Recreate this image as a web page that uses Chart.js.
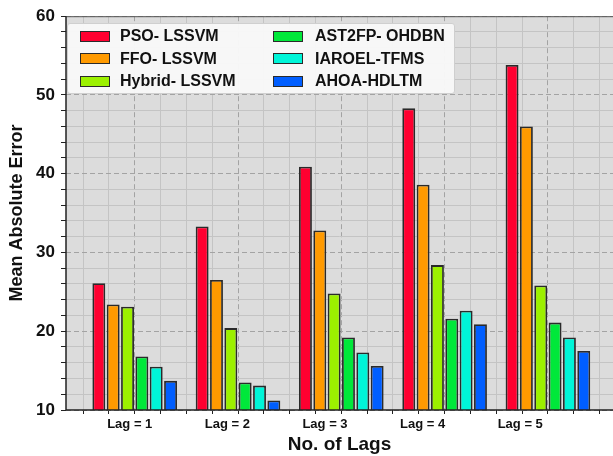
<!DOCTYPE html>
<html><head><meta charset="utf-8">
<script src="https://cdn.jsdelivr.net/npm/chart.js@4.4.0/dist/chart.umd.min.js"></script>
<style>
html,body{margin:0;padding:0;background:#fff;}
#wrap{position:relative;width:613px;height:456px;overflow:hidden;}
#legend{position:absolute;left:67px;top:23px;width:388px;height:71px;background:rgba(248,248,248,0.96);border:1px solid #cfcfcf;border-radius:3px;box-sizing:border-box;font:bold 16px "Liberation Sans",Arial,sans-serif;color:#111;}
.item{position:absolute;display:flex;align-items:center;height:22px;white-space:nowrap;}
.sw{width:30px;height:11px;border:1.5px solid #2a2a2a;box-sizing:border-box;margin-right:10px;}
</style></head>
<body><div id="wrap"><canvas id="c" width="613" height="456"></canvas><div id="legend"></div></div>
<script>
const categories = ['Lag = 1','Lag = 2','Lag = 3','Lag = 4','Lag = 5'];
const seriesNames = ['PSO- LSSVM','FFO- LSSVM','Hybrid- LSSVM','AST2FP- OHDBN','IAROEL-TFMS','AHOA-HDLTM'];
const psoLssvm    = [26.1, 33.3, 40.9, 48.3, 53.8];
const ffoLssvm    = [23.4, 26.5, 32.8, 38.6, 46.0];
const hybridLssvm = [23.1, 20.4, 24.8, 28.4, 25.8];
const ast2fpOhdbn = [16.8, 13.5, 19.2, 21.6, 21.1];
const iaroelTfms  = [15.5, 13.1, 17.3, 22.6, 19.2];
const ahoaHdltm   = [13.7, 11.2, 15.6, 20.9, 17.5];
const yMin = 10, yMax = 60;

const seriesValues = [psoLssvm, ffoLssvm, hybridLssvm, ast2fpOhdbn, iaroelTfms, ahoaHdltm];
const colors = ['#ff0030','#ff9a00','#9cf000','#00e83a','#00f5d8','#005eff'];

const X_MIN = -0.665, X_MAX = 4.63;
const FONT = '"Liberation Sans", Arial, sans-serif';
const isMult = (v, m) => Math.abs(v - Math.round(v / m) * m) < 1e-6;

const framePlugin = {
  id: 'frame',
  beforeDraw(chart) {
    const {ctx, chartArea: a} = chart;
    ctx.save();
    ctx.fillStyle = '#dcdcdc';
    ctx.fillRect(a.left, a.top, a.right - a.left, a.bottom - a.top);
    ctx.restore();
  },
  afterDatasetsDraw(chart) {
    const {ctx, chartArea: a} = chart;
    ctx.save();
    ctx.strokeStyle = '#555';
    ctx.lineWidth = 1;
    ctx.beginPath(); ctx.moveTo(a.left, a.top + 0.5); ctx.lineTo(a.right, a.top + 0.5); ctx.stroke();
    ctx.strokeStyle = '#222';
    ctx.lineWidth = 1.5;
    ctx.beginPath();
    ctx.moveTo(a.left, a.top); ctx.lineTo(a.left, a.bottom); ctx.lineTo(a.right, a.bottom);
    ctx.stroke();
    ctx.restore();
  }
};

const datasets = seriesNames.map((name, k) => ({
  label: name,
  data: categories.map((_, i) => ({x: i, y: seriesValues[k][i]})),
  backgroundColor: colors[k],
  borderColor: '#2a2a2a',
  borderWidth: 1.8,
  borderSkipped: false,
  categoryPercentage: 0.833,
  barPercentage: 0.9,
  xAxisID: 'x',
  yAxisID: 'y'
}));

new Chart(document.getElementById('c'), {
  type: 'bar',
  data: { datasets },
  plugins: [framePlugin],
  options: {
    responsive: false,
    animation: false,
    layout: { padding: { top: 16, right: 0, bottom: 0, left: 0 } },
    plugins: { legend: { display: false }, tooltip: { enabled: false } },
    scales: {
      x: {
        type: 'linear', min: X_MIN, max: X_MAX, position: 'bottom', weight: 0, offset: false,
        afterBuildTicks: ax => { ax.ticks = categories.map((_, i) => ({value: i})); },
        afterFit: ax => { ax.height = 0; },
        ticks: { display: false },
        grid: { color: '#a3a3a3', lineWidth: 1, drawTicks: false, offset: false },
        border: { display: false, dash: [5, 3] }
      },
      xMinor: {
        type: 'linear', min: X_MIN, max: X_MAX, position: 'bottom', weight: 1, offset: false,
        afterBuildTicks: ax => { const t = []; for (let k = -2; k <= 18; k++) t.push({value: k * 0.25}); ax.ticks = t; },
        afterFit: ax => { ax.height = 4; },
        ticks: { display: false, autoSkip: false },
        grid: {
          color: ctx => (ctx.tick && isMult(ctx.tick.value, 1)) ? 'rgba(0,0,0,0)' : '#c4c4c4',
          lineWidth: 1, drawTicks: true, tickLength: 4, tickColor: '#222', tickWidth: 1, offset: false
        },
        border: { display: false }
      },
      xLab: {
        type: 'linear', min: X_MIN, max: X_MAX, position: 'bottom', weight: 2, offset: false,
        afterBuildTicks: ax => { ax.ticks = categories.map((_, i) => ({value: i * 0.945 - 0.048})); },
        afterFit: ax => { ax.height = 42; },
        ticks: {
          autoSkip: false, maxRotation: 0, padding: 3, color: '#111',
          font: { family: FONT, weight: 'bold', size: 13 },
          callback: (v, i) => categories[i]
        },
        grid: { display: false, drawTicks: false, drawOnChartArea: false, offset: false },
        border: { display: false },
        title: { display: true, text: 'No. of Lags', color: '#111', padding: 0,
                 font: { family: FONT, weight: 'bold', size: 19 } }
      },
      y: {
        type: 'linear', min: yMin, max: yMax, position: 'left', weight: 0,
        afterFit: ax => { ax.width = 66; },
        ticks: {
          stepSize: 2, autoSkip: false, padding: 6, color: '#111',
          font: { family: FONT, weight: 'bold', size: 17 },
          callback: v => isMult(v, 10) ? v : ''
        },
        grid: {
          color: ctx => (ctx.tick && isMult(ctx.tick.value, 10)) ? 'rgba(0,0,0,0)' : '#c4c4c4',
          lineWidth: 1, drawTicks: true, tickLength: 5, tickColor: '#222', tickWidth: 1
        },
        border: { display: false },
        title: { display: true, text: 'Mean Absolute Error', color: '#111',
                 padding: { top: 6, bottom: 0 },
                 font: { family: FONT, weight: 'bold', size: 18 } }
      },
      yMajor: {
        type: 'linear', min: yMin, max: yMax, position: 'left', weight: 1,
        afterFit: ax => { ax.width = 0; },
        ticks: { display: false, stepSize: 10 },
        grid: { color: '#a3a3a3', lineWidth: 1, drawTicks: false },
        border: { display: false, dash: [5, 3] }
      }
    }
  }
});

// HTML legend inside plot (column-major, 3 rows)
const leg = document.getElementById('legend');
seriesNames.forEach((name, k) => {
  const col = Math.floor(k / 3), row = k % 3;
  const it = document.createElement('div');
  it.className = 'item';
  it.style.left = (col === 0 ? 12 : 205) + 'px';
  it.style.top = (1 + row * 22.6) + 'px';
  const sw = document.createElement('span');
  sw.className = 'sw';
  sw.style.background = colors[k];
  if (col === 1) sw.style.marginRight = '12px';
  const tx = document.createElement('span');
  tx.textContent = name;
  it.appendChild(sw); it.appendChild(tx);
  leg.appendChild(it);
});
</script>
</body></html>
